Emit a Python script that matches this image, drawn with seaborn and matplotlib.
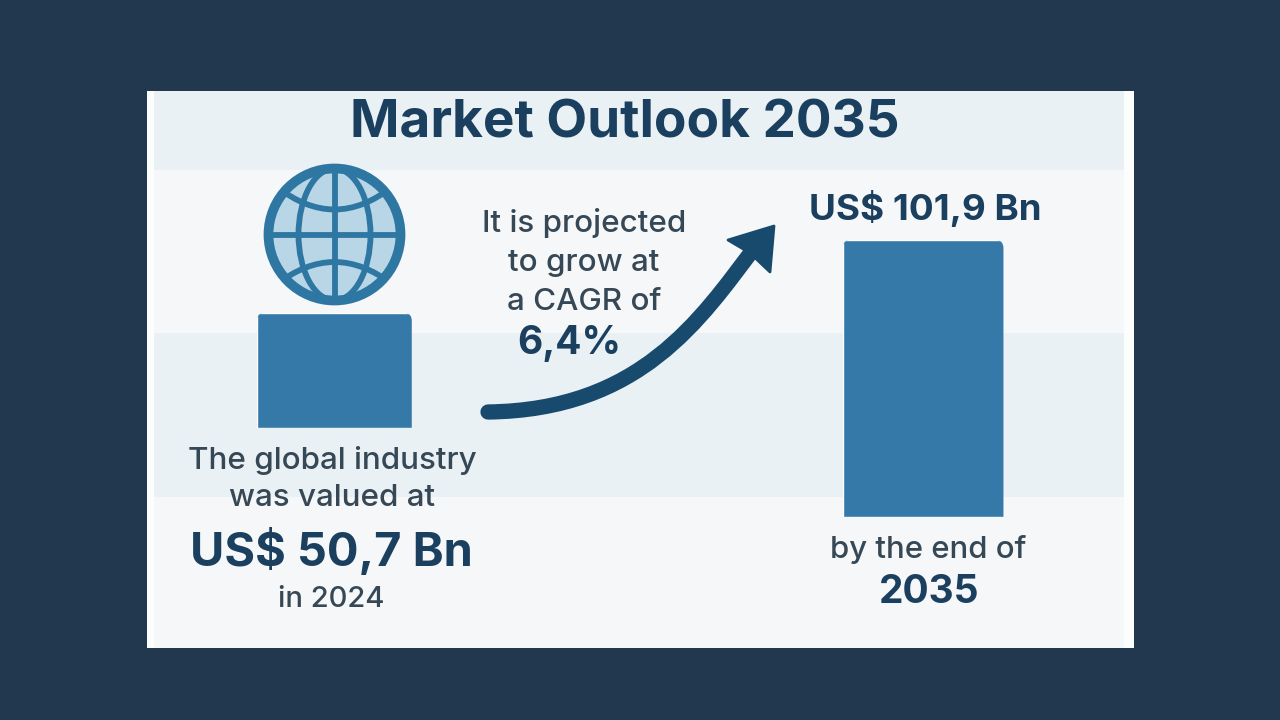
import matplotlib
matplotlib.use("Agg")
import matplotlib.pyplot as plt
import seaborn as sns
import pandas as pd
from matplotlib.patches import Rectangle, Circle, Ellipse, PathPatch, Polygon, FancyBboxPatch
from matplotlib.path import Path
from matplotlib.transforms import Affine2D

TITLE = "Market Outlook 2035"
years = ["2024", "2035"]
values = [50.7, 101.9]
start_lines = ["The global industry", "was valued at"]
start_value = "US$ 50,7 Bn"
start_year = "in 2024"
cagr_lines = ["It is projected", "to grow at", "a CAGR of"]
cagr_value = "6,4%"
end_value = "US$ 101,9 Bn"
end_line = "by the end of"
end_year = "2035"

NAVY = "#21384f"
DARK = "#1b3f5e"
BODY = "#364755"
BLUE = "#3579a8"
RIM = "#2f77a3"
ARROW = "#184a6e"
FONT = "Inter"

sns.set_theme(style="white")
plt.rcParams["font.family"] = [FONT, "DejaVu Sans"]

fig = plt.figure(figsize=(12.8, 7.2), dpi=100, facecolor=NAVY)
bg = fig.add_axes([0, 0, 1, 1])
bg.set_xlim(0, 1280)
bg.set_ylim(720, 0)
bg.axis("off")

# panel and bands
bg.add_patch(Rectangle((147, 91), 987, 557, fc="#fcfdfd", ec="none"))
bg.add_patch(Rectangle((154, 91), 970, 557, fc="#f5f7f8", ec="none"))
bg.add_patch(Rectangle((154, 91), 970, 79, fc="#e9f1f4", ec="none"))
bg.add_patch(Rectangle((154, 333), 970, 164, fc="#e9f1f4", ec="none"))

# globe
cx, cy, r = 334.5, 234.5, 66
globe = Circle((cx, cy), r, fc="#b9d6e6", ec="none", zorder=2)
bg.add_patch(globe)
clip = Circle((cx, cy), r, transform=bg.transData)
LW = 4.2
lines = [
    Ellipse((cx, cy), 72, 2 * r, fc="none", ec=RIM, lw=LW, zorder=3),
    PathPatch(Path([(cx - r, cy), (cx + r, cy)]), ec=RIM, lw=LW, zorder=3),
    PathPatch(Path([(cx, cy - r), (cx, cy + r)]), ec=RIM, lw=LW, zorder=3),
    PathPatch(Path([(cx - 58, cy - 48), (cx, cy - 2), (cx + 58, cy - 48)],
                   [Path.MOVETO, Path.CURVE3, Path.CURVE3]), fc="none", ec=RIM, lw=LW, zorder=3),
    PathPatch(Path([(cx - 58, cy + 50), (cx, cy + 5), (cx + 58, cy + 50)],
                   [Path.MOVETO, Path.CURVE3, Path.CURVE3]), fc="none", ec=RIM, lw=LW, zorder=3),
]
for p in lines:
    bg.add_patch(p)
    p.set_clip_path(clip)
bg.add_patch(Circle((cx, cy), r, fc="none", ec=RIM, lw=7, zorder=4))

# arrow
body = Path([(488, 412), (640, 410), (700, 320), (755, 247)],
            [Path.MOVETO, Path.CURVE4, Path.CURVE4, Path.CURVE4])
bg.add_patch(PathPatch(body, fc="none", ec=ARROW, lw=11, capstyle="round", zorder=3))
bg.add_patch(Polygon([(774, 226), (728, 240), (750, 253), (770, 272)], closed=True,
                     fc=ARROW, ec=ARROW, lw=2, joinstyle="round", zorder=3))


def bar_axes(box, year, value):
    x0, y0, x1, y1 = box
    ax = fig.add_axes([x0 / 1280, 1 - y1 / 720, (x1 - x0) / 1280, (y1 - y0) / 720])
    ax.patch.set_alpha(0)
    df = pd.DataFrame({"year": [year], "value": [value]})
    sns.barplot(data=df, x="year", y="value", color=BLUE, saturation=1, width=1, ax=ax)
    ax.set_ylim(0, value)
    ax.axis("off")
    w, h = x1 - x0, y1 - y0
    rnd = FancyBboxPatch((9, -14), w - 18, h + 5, boxstyle="round,pad=9,rounding_size=9",
                         transform=Affine2D().translate(x0, 720 - y1))
    for b in ax.patches:
        b.set_clip_path(rnd)
    return ax


bar_axes((256.5, 312.5, 412, 428), years[0], values[0])
bar_axes((842.5, 239.5, 1003.5, 517), years[1], values[1])


def t(x, y, s, size, color=BODY, weight="medium"):
    bg.text(x, y, s, fontsize=size, color=color, fontweight=weight, ha="center",
            va="baseline", zorder=6)


t(625, 137, TITLE, 38.2, DARK, "bold")
for y, s in zip([469, 506], start_lines):
    t(332, y, s, 22.6)
t(331.5, 566, start_value, 33.8, DARK, "bold")
t(331, 607, start_year, 21)
for y, s in zip([232, 271, 310], cagr_lines):
    t(584, y, s, 22.6)
t(569, 354, cagr_value, 28, DARK, "bold")
t(925, 220, end_value, 26.5, DARK, "bold")
t(928, 558, end_line, 22.4)
t(929, 603, end_year, 28, DARK, "bold")

fig.savefig("out.png", dpi=100, facecolor=NAVY)
